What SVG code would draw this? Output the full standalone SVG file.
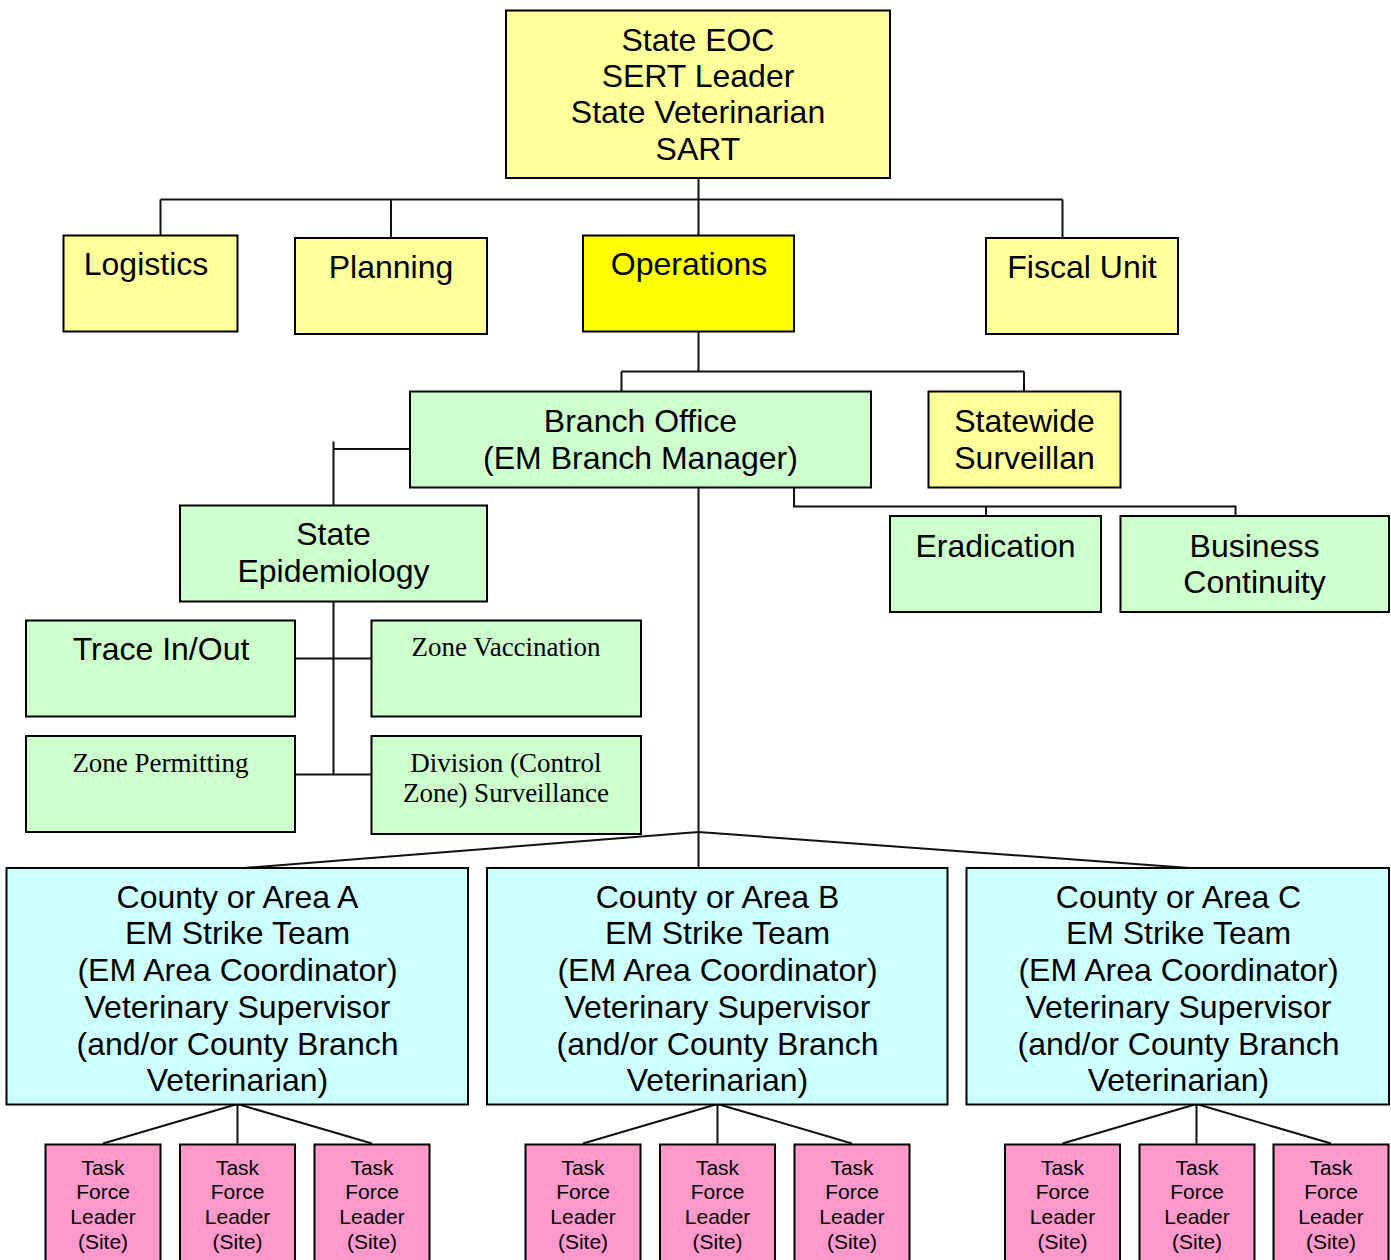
<svg xmlns="http://www.w3.org/2000/svg" width="1391" height="1260" viewBox="0 0 1391 1260">
<style>
.b{stroke:#000;stroke-width:2}
.ly{fill:#FFFF99}
.yy{fill:#FFFF00}
.gr{fill:#CCFFCC}
.cy{fill:#CCFFFF}
.pk{fill:#FF99CC}
.t{font-family:"Liberation Sans",Arial,sans-serif;font-size:32px;fill:#000;text-anchor:middle}
.s{font-family:"Liberation Serif","Times New Roman",serif;font-size:27px;fill:#000;text-anchor:middle}
.k{font-family:"Liberation Sans",Arial,sans-serif;font-size:21px;fill:#000;text-anchor:middle}
.c{stroke:#111;stroke-width:2;fill:none}
</style>
<rect width="1391" height="1260" fill="#fff"/>
<g id="connectors">
<path class="c" d="M698.5 174V236M160.5 199.5H1062.5M160.5 199.5V236M391 199.5V238M1062.5 199.5V238"/>
<path class="c" d="M698.5 331.5V371.5M621.5 371.5H1024M621.5 371.5V391M1024 371.5V391"/>
<path class="c" d="M333.5 441.5V505M333.5 449H410"/>
<path class="c" d="M333.5 601.5V774.5M295 658.5H371.5M295 774.5H371.5"/>
<path class="c" d="M794 487V506.5H1235.5V525M986 506.5V525"/>
<path class="c" d="M698.5 480V877"/>
<path class="c" d="M698.5 832L237.5 868.5M698.5 832L1196.5 868.5"/>
<path class="c" d="M237.5 1104L103 1143.5M237.5 1104V1143.5M237.5 1104L372 1143.5"/>
<path class="c" d="M717.5 1104L583 1143.5M717.5 1104V1143.5M717.5 1104L852 1143.5"/>
<path class="c" d="M1196.5 1104L1062.5 1143.5M1196.5 1104V1143.5M1196.5 1104L1331 1143.5"/>
</g>
<g id="n-eoc"><rect class="b ly" x="506" y="10.5" width="384" height="167.5"/>
<text class="t" x="698" y="50.5">State EOC</text><text class="t" x="698" y="86.5">SERT Leader</text><text class="t" x="698" y="123">State Veterinarian</text><text class="t" x="698" y="159.5">SART</text></g>
<g id="n-logistics"><rect class="b ly" x="63.5" y="235.5" width="174" height="96"/><text class="t" x="146" y="275">Logistics</text></g>
<g id="n-planning"><rect class="b ly" x="295" y="238" width="192" height="96"/><text class="t" x="391" y="277.5">Planning</text></g>
<g id="n-operations"><rect class="b yy" x="583" y="235.5" width="211" height="96"/><text class="t" x="689" y="275">Operations</text></g>
<g id="n-fiscal"><rect class="b ly" x="986" y="238" width="192" height="96"/><text class="t" x="1082" y="277.5">Fiscal Unit</text></g>
<g id="n-branch"><rect class="b gr" x="410" y="391.5" width="461" height="96"/><text class="t" x="640.5" y="431.5">Branch Office</text><text class="t" x="640.5" y="468.5">(EM Branch Manager)</text></g>
<g id="n-statewide"><rect class="b ly" x="928.5" y="391.5" width="192" height="96"/><text class="t" x="1024.5" y="431.5">Statewide</text><text class="t" x="1024.5" y="468.5">Surveillan</text></g>
<g id="n-eradication"><rect class="b gr" x="890" y="516" width="211" height="96"/><text class="t" x="995.5" y="556.5">Eradication</text></g>
<g id="n-business"><rect class="b gr" x="1120.5" y="516" width="268.5" height="96"/><text class="t" x="1254.5" y="556.5">Business</text><text class="t" x="1254.5" y="593">Continuity</text></g>
<g id="n-epi"><rect class="b gr" x="180" y="505.5" width="307" height="96"/><text class="t" x="333.5" y="545">State</text><text class="t" x="333.5" y="581.5">Epidemiology</text></g>
<g id="n-trace"><rect class="b gr" x="26" y="620.5" width="269" height="96"/><text class="t" x="161" y="660">Trace In/Out</text></g>
<g id="n-vacc"><rect class="b gr" x="371.5" y="620.5" width="269.5" height="96"/><text class="s" x="506" y="656">Zone Vaccination</text></g>
<g id="n-permit"><rect class="b gr" x="26" y="736" width="269" height="96"/><text class="s" x="160.5" y="771.5">Zone Permitting</text></g>
<g id="n-division"><rect class="b gr" x="371.5" y="736" width="269.5" height="98"/><text class="s" x="506" y="771.5">Division (Control</text><text class="s" x="506" y="801.5">Zone) Surveillance</text></g>
<g id="n-area-a"><rect class="b cy" x="6.5" y="868" width="461.5" height="236.5"/>
<text class="t" x="237.5" y="907.5">County or Area A</text><text class="t" x="237.5" y="944">EM Strike Team</text><text class="t" x="237.5" y="981">(EM Area Coordinator)</text><text class="t" x="237.5" y="1018">Veterinary Supervisor</text><text class="t" x="237.5" y="1055">(and/or County Branch</text><text class="t" x="237.5" y="1091">Veterinarian)</text></g>
<g id="n-area-b"><rect class="b cy" x="487" y="868" width="460.5" height="236.5"/>
<text class="t" x="717.5" y="907.5">County or Area B</text><text class="t" x="717.5" y="944">EM Strike Team</text><text class="t" x="717.5" y="981">(EM Area Coordinator)</text><text class="t" x="717.5" y="1018">Veterinary Supervisor</text><text class="t" x="717.5" y="1055">(and/or County Branch</text><text class="t" x="717.5" y="1091">Veterinarian)</text></g>
<g id="n-area-c"><rect class="b cy" x="966.5" y="868" width="422.5" height="236.5"/>
<text class="t" x="1178.5" y="907.5">County or Area C</text><text class="t" x="1178.5" y="944">EM Strike Team</text><text class="t" x="1178.5" y="981">(EM Area Coordinator)</text><text class="t" x="1178.5" y="1018">Veterinary Supervisor</text><text class="t" x="1178.5" y="1055">(and/or County Branch</text><text class="t" x="1178.5" y="1091">Veterinarian)</text></g>
<g id="n-task-a1"><rect class="b pk" x="45.5" y="1144.5" width="115" height="130"/><text class="k" x="103" y="1174.5">Task</text><text class="k" x="103" y="1199">Force</text><text class="k" x="103" y="1224">Leader</text><text class="k" x="103" y="1248.5">(Site)</text></g>
<g id="n-task-a2"><rect class="b pk" x="180" y="1144.5" width="115" height="130"/><text class="k" x="237.5" y="1174.5">Task</text><text class="k" x="237.5" y="1199">Force</text><text class="k" x="237.5" y="1224">Leader</text><text class="k" x="237.5" y="1248.5">(Site)</text></g>
<g id="n-task-a3"><rect class="b pk" x="314.5" y="1144.5" width="115" height="130"/><text class="k" x="372" y="1174.5">Task</text><text class="k" x="372" y="1199">Force</text><text class="k" x="372" y="1224">Leader</text><text class="k" x="372" y="1248.5">(Site)</text></g>
<g id="n-task-b1"><rect class="b pk" x="525.5" y="1144.5" width="115" height="130"/><text class="k" x="583" y="1174.5">Task</text><text class="k" x="583" y="1199">Force</text><text class="k" x="583" y="1224">Leader</text><text class="k" x="583" y="1248.5">(Site)</text></g>
<g id="n-task-b2"><rect class="b pk" x="660" y="1144.5" width="115" height="130"/><text class="k" x="717.5" y="1174.5">Task</text><text class="k" x="717.5" y="1199">Force</text><text class="k" x="717.5" y="1224">Leader</text><text class="k" x="717.5" y="1248.5">(Site)</text></g>
<g id="n-task-b3"><rect class="b pk" x="794.5" y="1144.5" width="115" height="130"/><text class="k" x="852" y="1174.5">Task</text><text class="k" x="852" y="1199">Force</text><text class="k" x="852" y="1224">Leader</text><text class="k" x="852" y="1248.5">(Site)</text></g>
<g id="n-task-c1"><rect class="b pk" x="1005" y="1144.5" width="115" height="130"/><text class="k" x="1062.5" y="1174.5">Task</text><text class="k" x="1062.5" y="1199">Force</text><text class="k" x="1062.5" y="1224">Leader</text><text class="k" x="1062.5" y="1248.5">(Site)</text></g>
<g id="n-task-c2"><rect class="b pk" x="1139.5" y="1144.5" width="115" height="130"/><text class="k" x="1197" y="1174.5">Task</text><text class="k" x="1197" y="1199">Force</text><text class="k" x="1197" y="1224">Leader</text><text class="k" x="1197" y="1248.5">(Site)</text></g>
<g id="n-task-c3"><rect class="b pk" x="1273.5" y="1144.5" width="115" height="130"/><text class="k" x="1331" y="1174.5">Task</text><text class="k" x="1331" y="1199">Force</text><text class="k" x="1331" y="1224">Leader</text><text class="k" x="1331" y="1248.5">(Site)</text></g>
</svg>
